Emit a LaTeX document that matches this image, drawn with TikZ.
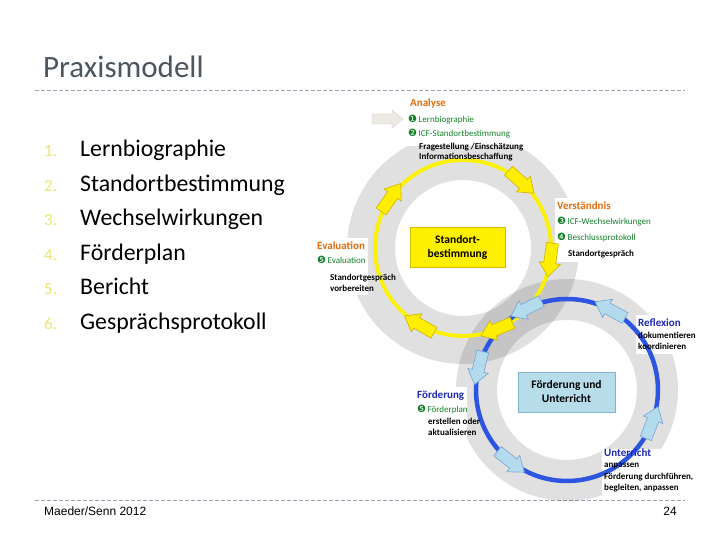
\documentclass[tikz,border=0pt]{standalone}
\usepackage{fontspec}
\setmainfont{Carlito}
\newfontfamily\footfont{Liberation Sans}
\newfontfamily\symfont{DejaVu Sans}
\usetikzlibrary{calc}
\definecolor{titlegray}{RGB}{75,85,95}
\definecolor{dashc}{RGB}{150,165,180}
\definecolor{numyel}{RGB}{238,228,110}
\definecolor{yline}{RGB}{250,240,10}
\definecolor{yfill}{RGB}{255,238,0}
\definecolor{ydraw}{RGB}{205,180,0}
\definecolor{bline}{RGB}{45,85,225}
\definecolor{bfill}{RGB}{180,218,238}
\definecolor{bdraw}{RGB}{120,165,205}
\definecolor{stdfill}{RGB}{255,240,0}
\definecolor{stddraw}{RGB}{215,185,0}
\definecolor{foefill}{RGB}{183,221,234}
\definecolor{foedraw}{RGB}{130,180,205}
\definecolor{orangelbl}{RGB}{228,108,10}
\definecolor{greenlbl}{RGB}{20,130,40}
\definecolor{bluelbl}{RGB}{30,40,180}
\definecolor{grayarrow}{RGB}{236,234,226}
\tikzset{
  blockarrow/.pic={\filldraw[pic actions] (-17,-6) -- (3,-6) -- (3,-10.5) -- (17,0) -- (3,10.5) -- (3,6) -- (-17,6) -- cycle;},
  yarrow/.style={fill=yfill, draw=ydraw, line width=0.6pt},
  barrow/.style={fill=bfill, draw=bdraw, line width=0.6pt},
  numst/.style={anchor=base west, inner sep=0pt, text=numyel, font=\fontsize{17}{20}\selectfont},
  itemst/.style={anchor=base west, inner sep=0pt, font=\fontsize{23.8}{28}\selectfont},
  headO/.style={anchor=base west, inner sep=0pt, text=orangelbl, font=\fontsize{11}{13}\selectfont\bfseries},
  headB/.style={anchor=base west, inner sep=0pt, text=bluelbl, font=\fontsize{11}{13}\selectfont\bfseries},
  grn/.style={anchor=base west, inner sep=0pt, text=greenlbl, font=\fontsize{9}{10}\selectfont},
  blk/.style={anchor=base west, inner sep=0pt, font=\fontsize{9}{10}\selectfont\bfseries},
  cbox/.style={draw, line width=0.8pt, align=center, font=\fontsize{11.5}{14}\selectfont\bfseries, inner sep=0pt},
  sep/.style={dashc, dash pattern=on 4pt off 2pt, line width=0.7pt}
}
\newcommand{\gn}[1]{{\symfont\fontsize{10}{10}\selectfont #1}\,}
\begin{document}
\begin{tikzpicture}[x=1pt,y=1pt]
\useasboundingbox (0,0) rectangle (720,540);
% title and separators
\node[anchor=base west, inner sep=0pt, text=titlegray, font=\fontsize{31}{36}\selectfont] (title) at (43,462) {Praxismodell};
\coordinate (s1a) at (35,450); \coordinate (s1b) at (685,450);
\coordinate (s2a) at (35,40); \coordinate (s2b) at (685,40);
\draw[sep] (s1a) -- (s1b);
\draw[sep] (s2a) -- (s2b);
% list
\node[numst] (n1) at (44,383) {1.}; \node[itemst] (i1) at (80,383) {Lernbiographie};
\node[numst] (n2) at (44,348) {2.}; \node[itemst] (i2) at (80,348) {Standortbestimmung};
\node[numst] (n3) at (44,314) {3.}; \node[itemst] (i3) at (80,314) {Wechselwirkungen};
\node[numst] (n4) at (44,279) {4.}; \node[itemst] (i4) at (80,279) {Förderplan};
\node[numst] (n5) at (44,245) {5.}; \node[itemst] (i5) at (80,245) {Bericht};
\node[numst] (n6) at (44,210) {6.}; \node[itemst] (i6) at (80,210) {Gesprächsprotokoll};
% footer
\node[anchor=base west, inner sep=0pt, font=\footfont\fontsize{12}{13}\selectfont] (foot) at (44,24) {Maeder/Senn 2012};
\node[anchor=base east, inner sep=0pt, font=\footfont\fontsize{12}{13}\selectfont] (page) at (677,24) {24};
% rings
\coordinate (cu) at (463,292);
\coordinate (cl) at (567,150);
\fill[black, fill opacity=0.12, even odd rule] (cu) circle (116) (cu) circle (68);
\fill[black, fill opacity=0.12, even odd rule] (cl) circle (111) (cl) circle (70);
% white label backgrounds
\fill[white] (405,447) rectangle (530,394);
\fill[white] (555,342) rectangle (664,278);
\fill[white] (314,302) rectangle (368,245);
\fill[white] (636,225) rectangle (702,186);
\fill[white] (414,153) rectangle (467,100);
\fill[white] (602,91) rectangle (704,45);
% cycles
\draw[yline, line width=4pt] (cu) circle (88);
\draw[bline, line width=4.5pt] (cl) circle (91);
\foreach \a in {48.6,-7.9,-67.5,-119.8,145} \pic[yarrow, rotate=\a-90] at ($(cu)+(\a:88)$) {blockarrow};
\foreach \a in {116.6,61.7,166,-128,-21} \pic[barrow, rotate=\a+90] at ($(cl)+(\a:91)$) {blockarrow};
% centre boxes
\node[cbox, draw=stddraw, fill=stdfill, minimum width=95pt, minimum height=40pt] (std) at (457.5,293) {Standort-\\bestimmung};
\node[cbox, draw=foedraw, fill=foefill, minimum width=97pt, minimum height=40pt] (foe) at (566.5,148) {Förderung und\\Unterricht};
% start arrow
\filldraw[fill=grayarrow, draw=grayarrow!85!black, line width=0.3pt] (372,426) -- (392,426) -- (392,430) -- (403,421) -- (392,412) -- (392,416) -- (372,416) -- cycle;
% labels: Analyse
\node[headO] (an) at (410,433) {Analyse};
\node[grn] (an1) at (408,417) {\gn{❶}Lernbiographie};
\node[grn] (an2) at (408,403) {\gn{❷}ICF-Standortbestimmung};
\node[blk] (an3) at (419,390) {Fragestellung /Einschätzung};
\node[blk] (an4) at (419,380) {Informationsbeschaffung};
% Verständnis
\node[headO] (ve) at (557,330) {Verständnis};
\node[grn] (ve1) at (557,315) {\gn{❸}ICF-Wechselwirkungen};
\node[grn] (ve2) at (557,299) {\gn{❹}Beschlussprotokoll};
\node[blk] (ve3) at (568,283) {Standortgespräch};
% Evaluation
\node[headO] (ev) at (317,290) {Evaluation};
\node[grn] (ev1) at (317,276) {\gn{❺}Evaluation};
\node[blk] (ev2) at (330,259) {Standortgespräch};
\node[blk] (ev3) at (330,248) {vorbereiten};
% Reflexion
\node[headB] (re) at (638,213) {Reflexion};
\node[blk] (re1) at (638,201) {dokumentieren};
\node[blk] (re2) at (638,190) {koordinieren};
% Förderung
\node[headB] (fo) at (417,141) {Förderung};
\node[grn] (fo1) at (417,127) {\gn{❺}Förderplan};
\node[blk] (fo2) at (428,115) {erstellen oder};
\node[blk] (fo3) at (428,104) {aktualisieren};
% Unterricht
\node[headB] (un) at (604,83) {Unterricht};
\node[blk] (un1) at (604,72) {anpassen};
\node[blk] (un2) at (604,60) {Förderung durchführen,};
\node[blk] (un3) at (604,49) {begleiten, anpassen};
\end{tikzpicture}
\end{document}
